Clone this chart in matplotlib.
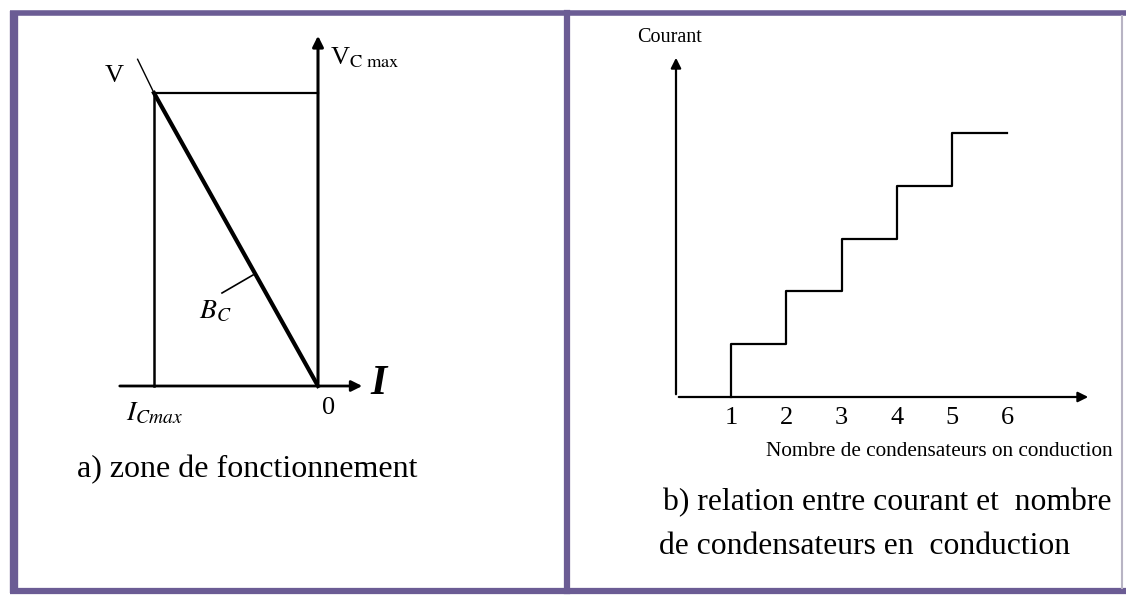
import matplotlib
matplotlib.use('Agg')
import matplotlib.pyplot as plt

plt.rcParams['font.family'] = ['Liberation Serif', 'DejaVu Serif']

# panel a : zone de fonctionnement (I en abscisse, V en ordonnee)
I_cmax = -1.0
V_cmax = 1.0
bc_I = [I_cmax, 0.0]
bc_V = [V_cmax, 0.0]

# panel b : courant vs nombre de condensateurs
n_cond = [1, 2, 3, 4, 5, 6]
courant = [1, 2, 3, 4, 5, 5]
tick_labels = ['1', '2', '3', '4', '5', '6']

purple = '#6b5c94'
W, H = 1126, 597
fig = plt.figure(figsize=(W / 100, H / 100), dpi=100)
fig.patch.set_facecolor('white')

# fond + cadre (coordonnees pixel)
bg = fig.add_axes([0, 0, 1, 1])
bg.set_xlim(0, W)
bg.set_ylim(H, 0)
bg.axis('off')
bg.plot([10, W], [13, 13], color=purple, lw=4, solid_capstyle='butt')
bg.plot([10, W], [591, 591], color=purple, lw=4.5, solid_capstyle='butt')
bg.plot([13.5, 13.5], [11, 593], color=purple, lw=6, solid_capstyle='butt')
bg.plot([1122, 1122], [16, 588], color='#b8b4c4', lw=1.5)
bg.plot([567, 567], [13, 591], color=purple, lw=4.5)


def px_axes(x0, y0, x1, y1):
    # axes dont les bords sont donnes en pixels (y vers le bas)
    return fig.add_axes([x0 / W, 1 - y1 / H, (x1 - x0) / W, (y1 - y0) / H])


# ---------- panel a ----------
# x: 0 -> 318 px, -1 -> 154 px ; y: 0 -> 386 px, 1 -> 93 px
sx, sy = 318 - 154, 386 - 93
axa = px_axes(100, 20, 420, 440)
axa.set_xlim((100 - 318) / sx, (420 - 318) / sx)
axa.set_ylim((386 - 440) / sy, (386 - 20) / sy)
axa.axis('off')

# axes avec fleches
axa.annotate('', xy=((365 - 318) / sx, 0), xytext=((117 - 318) / sx, 0),
             arrowprops=dict(arrowstyle='-|>', color='black', lw=2, mutation_scale=16))
axa.annotate('', xy=(0, (386 - 33) / sy), xytext=(0, 0),
             arrowprops=dict(arrowstyle='-|>', color='black', lw=2.2, mutation_scale=16))
# rectangle de la zone
axa.plot([I_cmax, I_cmax], [0, V_cmax], color='black', lw=1.8)
axa.plot([I_cmax, 0], [V_cmax, V_cmax], color='black', lw=1.6)
# droite B_C
axa.plot(bc_I, bc_V, color='black', lw=3)
axa.plot([I_cmax - 0.1, I_cmax], [V_cmax + 0.115, V_cmax], color='black', lw=1)
# repere B_C
axa.plot([(222 - 318) / sx, (253 - 318) / sx], [(386 - 293) / sy, (386 - 275) / sy],
         color='black', lw=1.2)

axa.text((105 - 318) / sx, (386 - 76) / sy, 'V', fontsize=19, ha='left', va='center')
axa.text((330 - 318) / sx, (386 - 58) / sy, r'V$_{\mathrm{C\ max}}$', fontsize=19,
         ha='left', va='center', math_fontfamily='stix')
axa.text((199 - 318) / sx, (386 - 312) / sy, r'$B_C$', fontsize=20, ha='left', va='center',
         math_fontfamily='stix')
axa.text((370 - 318) / sx, (386 - 384) / sy, 'I', fontsize=30, style='italic',
         fontweight='bold', ha='left', va='center')
axa.text((126 - 318) / sx, (386 - 414) / sy, r'$I_{Cmax}$', fontsize=20, ha='left', va='center',
         math_fontfamily='stix')
axa.text((322 - 318) / sx, (386 - 408) / sy, '0', fontsize=19, ha='left', va='center')

bg.text(77, 470, 'a) zone de fonctionnement', fontsize=23, ha='left', va='center')

# ---------- panel b ----------
# x: 0 -> 676 px, pas 55 px ; y: 0 -> 397 px, pas 53 px
ux, uy = 55.2, 52.8
axb = px_axes(640, 30, 1100, 430)
axb.set_xlim((640 - 676) / ux, (1100 - 676) / ux)
axb.set_ylim((397 - 430) / uy, (397 - 30) / uy)
axb.axis('off')

axb.annotate('', xy=((1091 - 676) / ux, 0), xytext=(0, 0),
             arrowprops=dict(arrowstyle='-|>', color='black', lw=1.6, mutation_scale=15))
axb.annotate('', xy=(0, (397 - 55) / uy), xytext=(0, 0),
             arrowprops=dict(arrowstyle='-|>', color='black', lw=1.6, mutation_scale=15))

xs = [n_cond[0]] + n_cond
ys = [0] + courant
axb.step(xs, ys, where='post', color='black', lw=1.6)
for xv, lab in zip(n_cond, tick_labels):
    axb.text(xv, (397 - 418) / uy, lab, fontsize=19, ha='center', va='center')
axb.text((670 - 676) / ux, (397 - 38) / uy, 'Courant', fontsize=14.5, ha='center', va='center')

bg.text(766, 451, 'Nombre de condensateurs on conduction', fontsize=15.3, ha='left', va='center')
bg.text(663, 503, 'b) relation entre courant et  nombre', fontsize=22.8, ha='left', va='center')
bg.text(659, 546, 'de condensateurs en  conduction', fontsize=22.8, ha='left', va='center')

fig.savefig('out.png', dpi=100)
